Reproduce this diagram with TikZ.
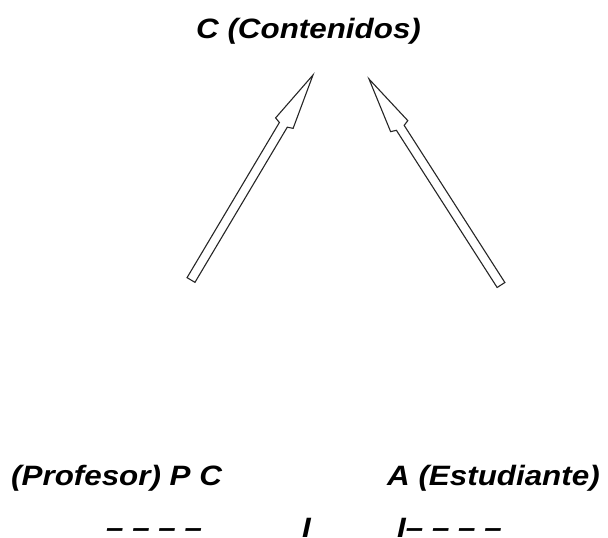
\documentclass[tikz,border=0pt]{standalone}
\usepackage{fontspec}
\usepackage{graphicx}
\setmainfont{Liberation Sans}
\usetikzlibrary{calc}

% wide bold italic labels
\newcommand{\lbl}[1]{\scalebox{1.12}[1]{\fontsize{28}{32}\selectfont\bfseries\itshape #1}}

% hollow block arrow from tail #1 to tip #2
\newcommand{\hollowarrow}[2]{%
  \coordinate (#1-n) at ($(#2)!58pt!(#1)$);
  \coordinate (#1-b) at ($(#2)!56pt!(#1)$);
  \draw[blockarrow]
    ($(#1)!4.6pt!90:(#2)$) --
    ($(#1-n)!4.6pt!90:(#2)$) --
    ($(#1-b)!10.2pt!90:(#2)$) --
    (#2) --
    ($(#1-b)!10.2pt!-90:(#2)$) --
    ($(#1-n)!4.6pt!-90:(#2)$) --
    ($(#1)!4.6pt!-90:(#2)$) -- cycle;
}

\begin{document}
\begin{tikzpicture}[x=1pt,y=-1pt,
  label/.style={inner sep=0pt, anchor=base west, text=black},
  blockarrow/.style={draw=black!85, line width=1.1pt, line join=miter, fill=white}]
\useasboundingbox (0,0) rectangle (608,538);

% labels
\node[label] (cont) at (196,38) {\lbl{C (Contenidos)}};
\node[label] (prof) at (11,485) {\lbl{(Profesor) P C}};
\node[label] (est) at (387,485) {\lbl{A (Estudiante)}};
\node[label] (d1) at (106,537) {\lbl{– – – –}};
\node[label] (d2) at (302,537) {\lbl{I}};
\node[label] (d3) at (397,537) {\lbl{I– – – –}};

% arrows pointing up to the contents
\coordinate (lt) at (191,280);
\coordinate (lh) at (313,75);
\coordinate (rt) at (501,285);
\coordinate (rh) at (369,79);
\hollowarrow{lt}{lh}
\hollowarrow{rt}{rh}
\end{tikzpicture}
\end{document}
